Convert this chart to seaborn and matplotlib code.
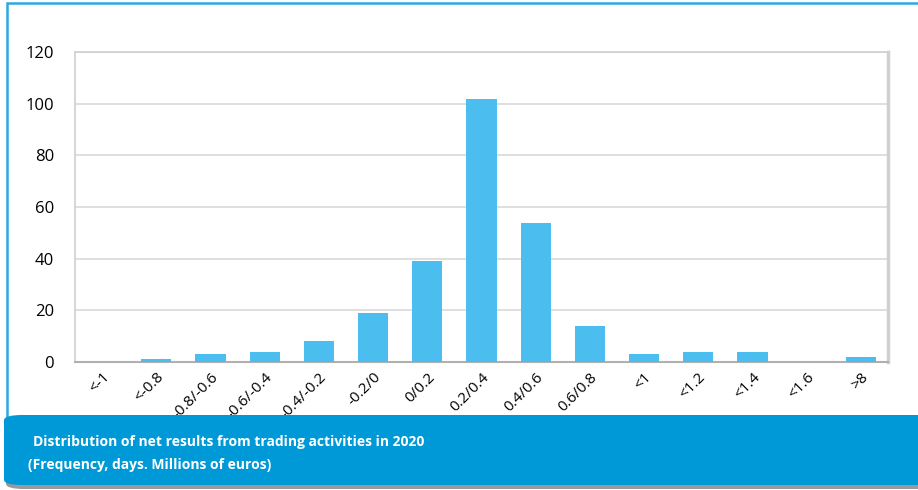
import matplotlib
matplotlib.use("Agg")
import matplotlib.pyplot as plt
import seaborn as sns
import pandas as pd
from matplotlib.patches import FancyBboxPatch, Rectangle

categories = ["<-1", "<-0.8", "-0.8/-0.6", "-0.6/-0.4", "-0.4/-0.2", "-0.2/0", "0/0.2",
              "0.2/0.4", "0.4/0.6", "0.6/0.8", "<1", "<1.2", "<1.4", "<1.6", ">8"]
frequency = [0, 1, 3, 4, 8, 19, 39, 102, 54, 14, 3, 4, 4, 0, 2]
y_ticks = [0, 20, 40, 60, 80, 100, 120]
caption_line1 = "Distribution of net results from trading activities in 2020"
caption_line2 = "(Frequency, days. Millions of euros)"

sns.set_theme(style="white")
plt.rcParams['font.family'] = ['Open Sans', 'DejaVu Sans']

W, H = 918, 490
fig = plt.figure(figsize=(W / 100, H / 100), dpi=100)
fig.patch.set_facecolor("white")
ax = fig.add_axes([75 / W, 1 - 362 / H, (888 - 75) / W, (362 - 52) / H])

df = pd.DataFrame({"cat": categories, "freq": frequency})
sns.barplot(data=df, x="cat", y="freq", ax=ax, color="#4BBEEF", saturation=1,
            width=0.56, zorder=3, linewidth=0, edgecolor="none")

ax.set_ylim(0, 120)
ax.set_xlim(-0.5, len(categories) - 0.5)
ax.set_yticks(y_ticks)
ax.yaxis.grid(True, color="#D9D9D9", linewidth=1.2, zorder=0)
ax.set_axisbelow(True)
ax.set_xlabel("")
ax.set_ylabel("")
ax.tick_params(axis="y", labelsize=12, colors="black", length=0, pad=15)
ax.tick_params(axis="x", labelsize=11, colors="black", length=0, pad=0)
plt.setp(ax.get_xticklabels(), rotation=45, ha="right", rotation_mode="anchor")
for lab in ax.get_xticklabels():
    lab.set_y(-0.025)
    lab.set_x(lab.get_position()[0])
for s in ["top", "left"]:
    ax.spines[s].set_color("#D0D0D0")
    ax.spines[s].set_linewidth(1.2)
ax.spines["right"].set_color("#D0D0D0")
ax.spines["right"].set_linewidth(2.5)
ax.spines["bottom"].set_color("#B0B0B0")
ax.spines["bottom"].set_linewidth(1.5)

# outer thin blue frame
fig.add_artist(Rectangle((7 / W, 0.02), 1.2, (1 - 3 / H) - 0.02, transform=fig.transFigure,
                         fill=False, edgecolor="#29A9E0", linewidth=1.8, zorder=0.5))
# shadow band
fig.add_artist(FancyBboxPatch((6 / W, 1 - 489 / H), 1.1, (489 - 418) / H,
                              boxstyle="round,pad=0,rounding_size=0.02",
                              transform=fig.transFigure, facecolor="#9A9A9A",
                              edgecolor="none", zorder=5, mutation_aspect=H / W))
# blue caption band
fig.add_artist(FancyBboxPatch((4 / W, 1 - 485 / H), 1.1, (485 - 415) / H,
                              boxstyle="round,pad=0,rounding_size=0.02",
                              transform=fig.transFigure, facecolor="#0099D8",
                              edgecolor="none", zorder=6, mutation_aspect=H / W))
fig.text(33 / W, 1 - 442 / H, caption_line1, color="white", fontsize=10,
         fontweight="bold", va="center", ha="left", zorder=7)
fig.text(28 / W, 1 - 465 / H, caption_line2, color="white", fontsize=10,
         fontweight="bold", va="center", ha="left", zorder=7)

fig.savefig("out.png", dpi=100)
